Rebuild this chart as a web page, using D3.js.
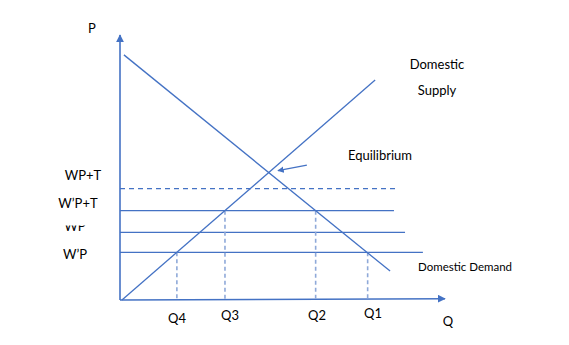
<!DOCTYPE html>
<html><head><meta charset="utf-8">
<script src="https://cdn.jsdelivr.net/npm/d3@7"></script>
<style>body{margin:0;background:#fff}text{font-family:Lato,"Open Sans",sans-serif;font-size:13px;fill:#000}</style>
</head><body><svg id="c" width="569" height="345"></svg>
<script>
// Price levels (abstract units), line end quantity, dashed flag
const priceLabels = ["WP+T", "W\u2019P+T", "WP", "W\u2019P"];
const priceValues = [42.0, 33.7, 25.5, 18.0];
const priceLineEnds = [85.2, 84.3, 87.7, 93.2];
const priceDashed = [true, false, false, false];
// Quantities marked on axis, with the price level their dashed drop line starts from
const qtyLabels = ["Q4", "Q3", "Q2", "Q1"];
const qtyValues = [17.5, 32.3, 60.2, 76.2];
const qtyTops = [18.0, 33.7, 33.7, 18.0];
// Curves
const demandQ = [1.2, 83.1], demandP = [92.5, 10.9];
const supplyQ = [0.6, 78.5], supplyP = [0, 83];

const svg = d3.select("#c");
const x = d3.scaleLinear().domain([0, 100]).range([120, 445]);
const y = d3.scaleLinear().domain([0, 100]).range([300, 35]);
const blue = "#4472c4";

const defs = svg.append("defs");
defs.append("marker").attr("id","ah").attr("viewBox","0 0 10 10").attr("refX",9).attr("refY",5)
  .attr("markerWidth",5).attr("markerHeight",5).attr("orient","auto")
  .append("path").attr("d","M0,0L10,5L0,10z").attr("fill",blue);
defs.append("clipPath").attr("id","wpclip").append("rect").attr("x",40).attr("y",225.5).attr("width",80).attr("height",20);

// axes
svg.append("line").attr("x1",x(0)).attr("y1",y(0)).attr("x2",x(0)).attr("y2",y(100))
  .attr("stroke",blue).attr("stroke-width",1.6).attr("marker-end","url(#ah)");
svg.append("line").attr("x1",x(0)).attr("y1",y(0)).attr("x2",x(100)).attr("y2",y(0.5))
  .attr("stroke",blue).attr("stroke-width",1.6).attr("marker-end","url(#ah)");

// price lines
priceValues.forEach((p,i)=>{
  svg.append("line").attr("x1",x(0)).attr("x2",x(priceLineEnds[i])).attr("y1",y(p)).attr("y2",y(p))
    .attr("stroke",blue).attr("stroke-width",1.3).attr("stroke-dasharray",priceDashed[i]?"5,4":null);
});
// drop lines
qtyValues.forEach((q,i)=>{
  svg.append("line").attr("x1",x(q)).attr("x2",x(q)).attr("y1",y(qtyTops[i])).attr("y2",y(0))
    .attr("stroke","#8fa9d9").attr("stroke-width",1.6).attr("stroke-dasharray","4,3");
});
// curves
const line = d3.line().x(d=>x(d[0])).y(d=>y(d[1]));
svg.append("path").attr("d",line(d3.zip(demandQ,demandP))).attr("stroke",blue).attr("stroke-width",1.3).attr("fill","none");
svg.append("path").attr("d",line(d3.zip(supplyQ,supplyP))).attr("stroke",blue).attr("stroke-width",1.3).attr("fill","none");

// equilibrium arrow
svg.append("line").attr("x1",x(57.5)).attr("y1",y(50.9)).attr("x2",x(48.6)).attr("y2",y(48.8))
  .attr("stroke",blue).attr("stroke-width",1.3).attr("marker-end","url(#ah)");

// labels
const lblPos = [[83,175],[78,203],[75,226.5],[75,254]];
priceLabels.forEach((t,i)=>{
  const tx = svg.append("text").attr("x",lblPos[i][0]).attr("y",lblPos[i][1]).attr("dy","0.35em").attr("text-anchor","middle").text(t);
  if (t === "WP") tx.attr("clip-path","url(#wpclip)");
});
const qPos = [[177,318],[230,315],[317,315],[373,313]];
qtyLabels.forEach((t,i)=>{
  svg.append("text").attr("x",qPos[i][0]).attr("y",qPos[i][1]).attr("dy","0.35em").attr("text-anchor","middle").text(t);
});
svg.append("text").attr("x",92).attr("y",28).attr("dy","0.35em").attr("text-anchor","middle").text("P");
svg.append("text").attr("x",448).attr("y",321).attr("dy","0.35em").attr("text-anchor","middle").text("Q");
svg.append("text").attr("x",437).attr("y",64).attr("dy","0.35em").attr("text-anchor","middle").text("Domestic");
svg.append("text").attr("x",437).attr("y",90).attr("dy","0.35em").attr("text-anchor","middle").text("Supply");
svg.append("text").attr("x",380).attr("y",155).attr("dy","0.35em").attr("text-anchor","middle").text("Equilibrium");
svg.append("text").attr("x",418).attr("y",267).attr("dy","0.35em").style("font-size","11.5px").text("Domestic Demand");
</script></body></html>
